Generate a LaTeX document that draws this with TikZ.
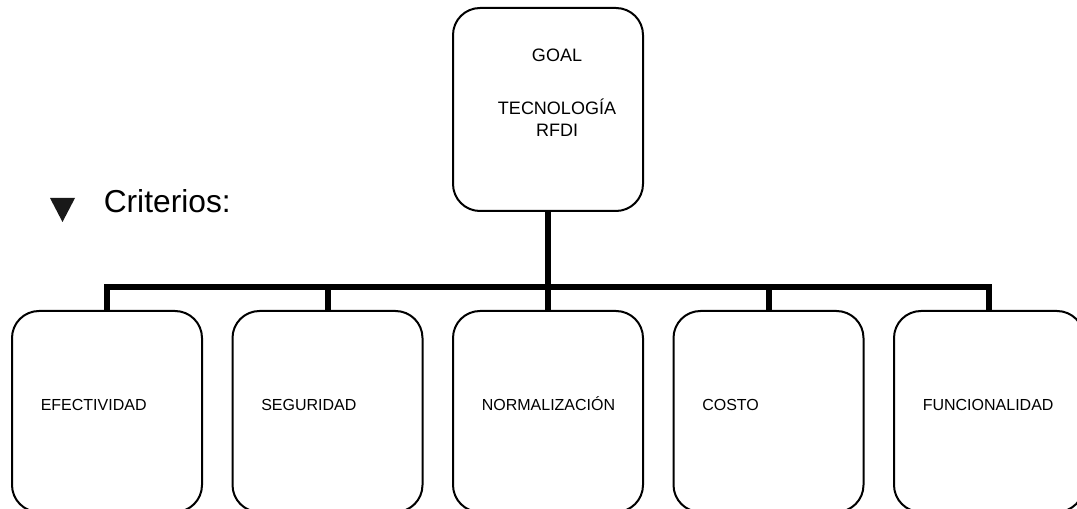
\documentclass[tikz,border=0pt]{standalone}
\usepackage{fontspec}
\setmainfont{Liberation Sans}
\begin{document}
\begin{tikzpicture}[x=0.75pt,y=-0.75pt,
  boxstyle/.style={draw=black,line width=1.5pt,rounded corners=20.25pt,
    minimum width=142.5pt,inner sep=0pt,outer sep=0pt,fill=white},
  topbox/.style={boxstyle,minimum height=152.25pt},
  critbox/.style={boxstyle,minimum height=150.75pt},
  conn/.style={line width=4.5pt,line join=miter,line cap=butt},
  crittext/.style={font=\fontsize{12pt}{14pt}\selectfont,anchor=base west,inner sep=0pt},
  goaltext/.style={font=\fontsize{13.5pt}{16.5pt}\selectfont,align=center,inner sep=0pt}]
\useasboundingbox (0,0) rectangle (1077,509);
\clip (0,0) rectangle (1077,509);
% top box
\node[topbox] (goal) at (548,109.5) {};
\node[goaltext] (goalA) at (557,55) {GOAL};
\node[goaltext,anchor=base] (goalB) at (557,137) {TECNOLOGÍA\\RFDI};
% criteria boxes
\node[critbox] (b1) at (107,411.5) {};
\node[critbox] (b2) at (327.5,411.5) {};
\node[critbox] (b3) at (548,411.5) {};
\node[critbox] (b4) at (768.5,411.5) {};
\node[critbox] (b5) at (989,411.5) {};
\node[crittext] (t1) at ([xshift=21.4pt]b1.west |- 0,410) {EFECTIVIDAD};
\node[crittext] (t2) at ([xshift=21.4pt]b2.west |- 0,410) {SEGURIDAD};
\node[crittext] (t3) at ([xshift=21.4pt]b3.west |- 0,410) {NORMALIZACIÓN};
\node[crittext] (t4) at ([xshift=21.4pt]b4.west |- 0,410) {COSTO};
\node[crittext] (t5) at ([xshift=21.4pt]b5.west |- 0,410) {FUNCIONALIDAD};
% connectors
\coordinate (bar) at (0,287);
\draw[conn] (goal.south) -- (goal.south |- bar);
\draw[conn] (b1.north) |- (b5.north |- bar) -- (b5.north);
\draw[conn] (b2.north) -- (b2.north |- bar);
\draw[conn] (b3.north) -- (b3.north |- bar);
\draw[conn] (b4.north) -- (b4.north |- bar);
% bullet and title
\fill[black!90] (50,198) -- (75,198) -- (62.5,222) -- cycle;
\node[font=\fontsize{23.8pt}{28pt}\selectfont,anchor=base west,inner sep=0pt] (crit) at (103.5,213) {Criterios:};
\end{tikzpicture}
\end{document}
